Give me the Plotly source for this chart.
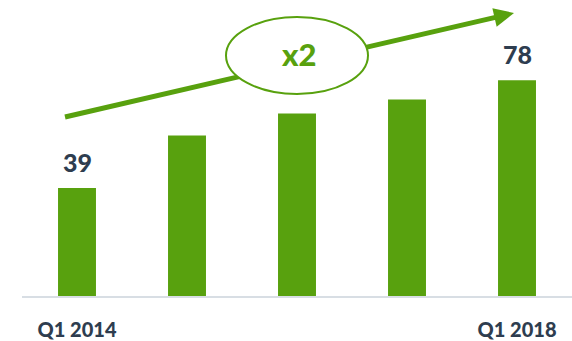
import plotly.graph_objects as go
import math

categories = ["Q1 2014", "Q1 2015", "Q1 2016", "Q1 2017", "Q1 2018"]
values = [39, 58, 66, 71, 78]
shown_ticks = ["Q1 2014", "Q1 2018"]
labelled = [0, 4]

GREEN = "#58a10e"
DARK = "#2e3d4f"
FONT = "Lato"

W, H = 572, 341
L, R, T, B = 22, 0, 0, 45
PW, PH = W - L - R, H - T - B

def px(x):
    return (x - L) / PW

def py(y):
    return (H - B - y) / PH

fig = go.Figure()
fig.add_trace(go.Bar(x=categories, y=values, marker_color=GREEN,
                     marker_line_width=0, hoverinfo="skip"))

for i in labelled:
    fig.add_annotation(x=categories[i], y=values[i], text=str(values[i]),
                       showarrow=False, yanchor="bottom", yshift=9,
                       font=dict(family=FONT, size=25, color=DARK, weight=900))

# trend arrow
x0, y0, xt, yt = 65, 117, 514, 13
dx, dy = xt - x0, yt - y0
ln = math.hypot(dx, dy)
ux, uy = dx / ln, dy / ln
nx, ny = -uy, ux
hl, hw = 20, 9.5
bx, by = xt - hl * ux, yt - hl * uy
fig.add_shape(type="line", xref="paper", yref="paper",
              x0=px(x0), y0=py(y0), x1=px(bx + 2 * ux), y1=py(by + 2 * uy),
              line=dict(color=GREEN, width=5))
pts = [(xt, yt), (bx + hw * nx, by + hw * ny), (bx - hw * nx, by - hw * ny)]
path = "M " + " L ".join(f"{px(a):.5f},{py(b):.5f}" for a, b in pts) + " Z"
fig.add_shape(type="path", xref="paper", yref="paper", path=path,
              fillcolor=GREEN, line=dict(color=GREEN, width=0))
fig.add_shape(type="circle", xref="paper", yref="paper",
              x0=px(226), x1=px(368), y0=py(94), y1=py(17),
              fillcolor="white", line=dict(color=GREEN, width=2))
fig.add_annotation(xref="paper", yref="paper", x=px(298), y=py(54),
                   text="x2", showarrow=False, yanchor="middle",
                   font=dict(family=FONT, size=31, color=GREEN, weight=900))

fig.update_layout(
    width=W, height=H, margin=dict(l=L, r=R, t=T, b=B),
    plot_bgcolor="white", paper_bgcolor="white", showlegend=False,
    bargap=0.655,
    xaxis=dict(type="category", range=[-0.5, 4.5], tickmode="array",
               tickvals=shown_ticks, ticktext=shown_ticks, showgrid=False,
               showline=True, linecolor="#d8dee4", linewidth=2, ticks="",
               ticklabelstandoff=15, automargin=False,
               tickfont=dict(family=FONT, size=20, color=DARK, weight=900)),
    yaxis=dict(range=[0, 107], visible=False, showgrid=False, zeroline=False,
               automargin=False),
)
fig.write_html("out.html")
